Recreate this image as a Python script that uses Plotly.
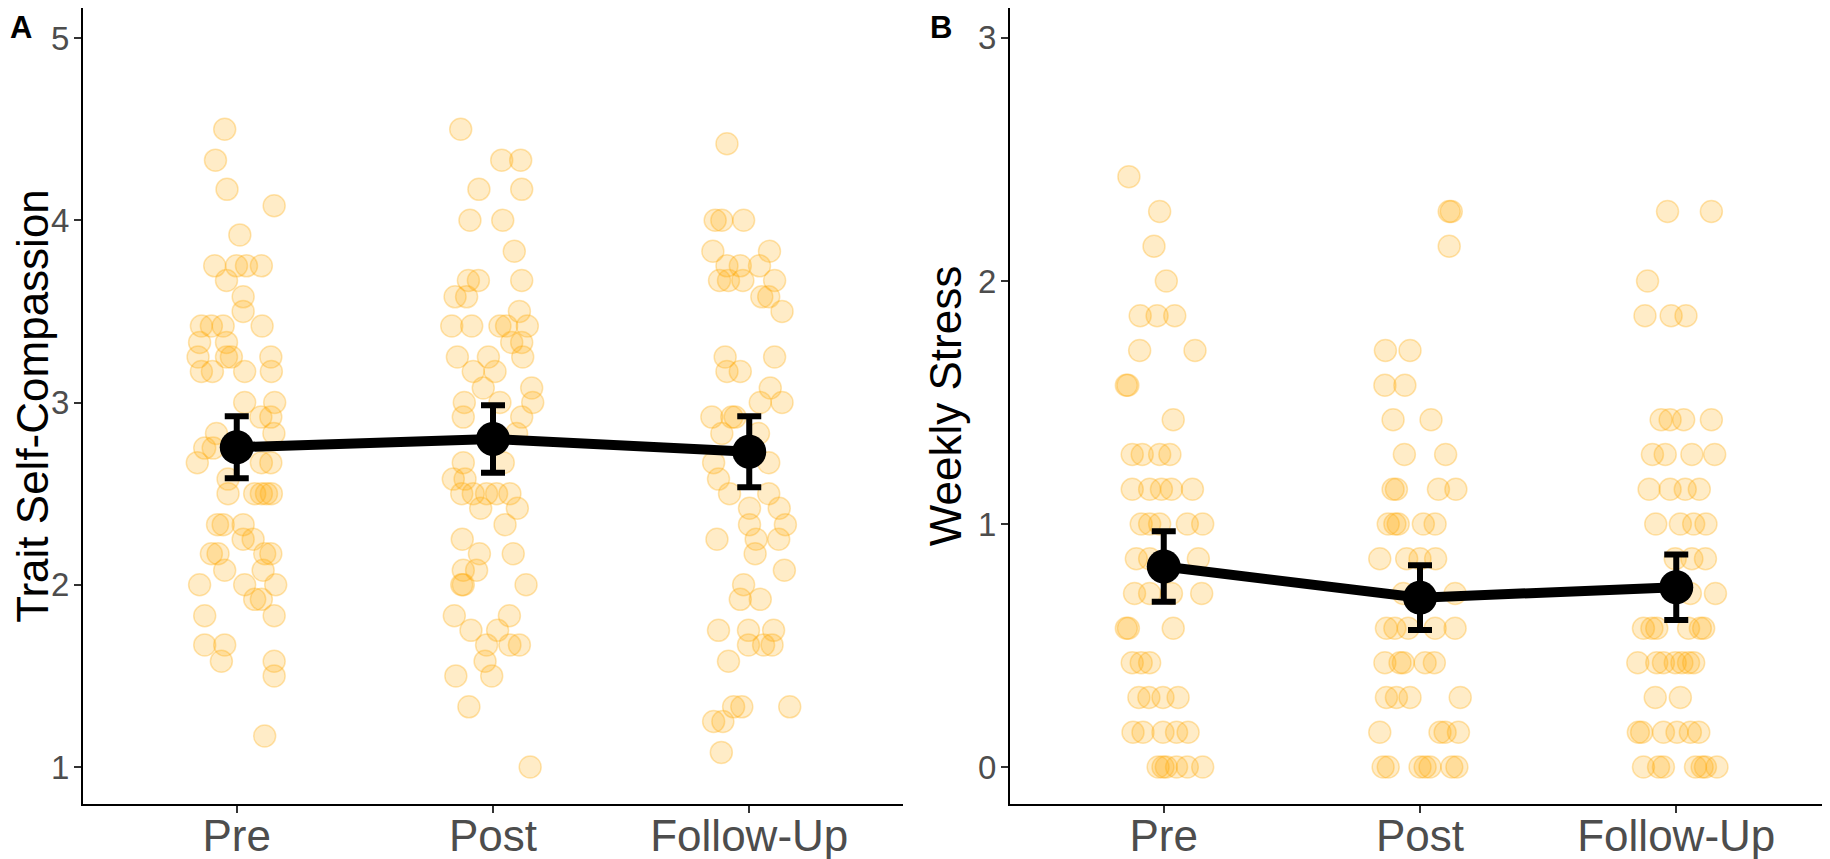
import plotly.graph_objects as go
from plotly.subplots import make_subplots

# time points
waves = ["Pre", "Post", "Follow-Up"]

# panel A: trait self-compassion, one value per participant + horizontal jitter
sc_pre = [4.5, 4.33, 4.17, 4.08, 3.92, 3.75, 3.75, 3.75, 3.75, 3.67, 3.58, 3.5,
          3.42, 3.42, 3.42, 3.42, 3.33, 3.33, 3.25, 3.25, 3.25, 3.25,
          3.17, 3.17, 3.17, 3.17, 3.0, 3.0, 2.92, 2.92, 2.83, 2.83, 2.75, 2.75,
          2.67, 2.67, 2.67, 2.58, 2.5, 2.5, 2.5, 2.5, 2.5, 2.33, 2.33, 2.33,
          2.25, 2.25, 2.17, 2.17, 2.17, 2.17, 2.08, 2.08, 2.0, 2.0, 2.0,
          1.92, 1.92, 1.83, 1.83, 1.67, 1.67, 1.58, 1.58, 1.5, 1.17]
sc_pre_jit = [-0.047, -0.083, -0.038, 0.146, 0.012, -0.086, -0.001, 0.038, 0.096, -0.04, 0.025, 0.025,
              -0.138, -0.099, -0.053, 0.099, -0.145, -0.04, -0.151, -0.04, -0.021, 0.133,
              -0.138, -0.095, 0.031, 0.135, 0.031, 0.148, 0.094, 0.133, -0.079, 0.145, -0.125, -0.092,
              -0.154, 0.096, 0.133, -0.034, 0.07, 0.096, 0.116, 0.135, -0.034, -0.075, -0.053, 0.025,
              0.064, 0.025, -0.099, -0.073, 0.133, 0.109, -0.047, 0.103, -0.145, 0.031, 0.152,
              0.096, 0.07, -0.125, 0.146, -0.125, -0.047, -0.06, 0.146, 0.146, 0.109]

sc_post = [4.5, 4.33, 4.33, 4.17, 4.17, 4.0, 4.0, 3.83, 3.67, 3.67, 3.67, 3.58, 3.58, 3.5,
           3.42, 3.42, 3.42, 3.42, 3.42, 3.33, 3.33, 3.25, 3.25, 3.25, 3.17, 3.17,
           3.08, 3.08, 3.0, 3.0, 3.0, 2.92, 2.92, 2.83, 2.67, 2.67, 2.58, 2.58,
           2.5, 2.5, 2.5, 2.5, 2.5, 2.42, 2.42, 2.33, 2.25, 2.17, 2.17, 2.08, 2.08,
           2.0, 2.0, 2.0, 1.83, 1.83, 1.75, 1.75, 1.67, 1.67, 1.67, 1.58, 1.5, 1.5, 1.33, 1.0]
sc_post_jit = [-0.126, 0.034, 0.108, -0.055, 0.112, -0.09, 0.038, 0.083, -0.096, -0.057, 0.112, -0.148, -0.103, 0.103,
               -0.161, -0.083, 0.027, 0.053, 0.134, 0.073, 0.112, -0.139, -0.018, 0.116, -0.077, 0.008,
               -0.038, 0.151, 0.155, -0.112, 0.027, -0.116, 0.112, 0.092, -0.116, 0.04, -0.155, -0.109,
               -0.122, -0.077, -0.025, 0.014, 0.066, -0.048, 0.095, 0.047, -0.12, -0.053, 0.079, -0.116, -0.064,
               -0.122, -0.116, 0.129, -0.151, 0.064, -0.086, 0.018, -0.025, 0.066, 0.103, -0.031, -0.145, -0.005, -0.094, 0.145]

sc_fu = [4.42, 4.0, 4.0, 4.0, 3.83, 3.83, 3.75, 3.75, 3.75, 3.67, 3.67, 3.67, 3.67,
         3.58, 3.58, 3.5, 3.25, 3.25, 3.17, 3.17, 3.08, 3.0, 3.0, 2.92, 2.92, 2.92,
         2.83, 2.83, 2.67, 2.67, 2.58, 2.5, 2.5, 2.42, 2.42, 2.33, 2.33, 2.25, 2.25, 2.25,
         2.17, 2.08, 2.0, 1.92, 1.92, 1.75, 1.75, 1.75, 1.67, 1.67, 1.67, 1.58,
         1.33, 1.33, 1.33, 1.25, 1.25, 1.08]
sc_fu_jit = [-0.087, -0.133, -0.107, -0.022, -0.142, 0.079, -0.087, -0.035, 0.04, -0.116, -0.081, -0.025, 0.099,
             0.049, 0.076, 0.128, -0.094, 0.099, -0.087, -0.035, 0.082, 0.043, 0.128, -0.146, -0.068, -0.055,
             -0.107, 0.036, -0.139, 0.076, -0.12, -0.077, 0.076, 0.001, 0.117, 0.001, 0.141, -0.126, 0.027, 0.115,
             0.023, 0.137, -0.022, -0.035, 0.043, -0.12, -0.003, 0.095, -0.003, 0.056, 0.089, -0.081,
             -0.061, -0.029, 0.158, -0.139, -0.103, -0.109]

sc_mean = [2.755, 2.80, 2.73]
sc_err = [0.17, 0.185, 0.195]

# panel B: weekly stress
st_pre = [2.429, 2.286, 2.143, 2.0, 1.857, 1.857, 1.857, 1.714, 1.714, 1.571, 1.571, 1.429,
          1.286, 1.286, 1.286, 1.286, 1.143, 1.143, 1.143, 1.143, 1.143,
          1.0, 1.0, 1.0, 1.0, 1.0, 0.857, 0.857, 0.857, 0.714, 0.714, 0.714, 0.714,
          0.571, 0.571, 0.571, 0.429, 0.429, 0.429, 0.286, 0.286, 0.286, 0.286,
          0.143, 0.143, 0.143, 0.143, 0.143, 0.0, 0.0, 0.0, 0.0, 0.0, 0.0]
st_pre_jit = [-0.136, -0.016, -0.038, 0.01, -0.092, -0.026, 0.043, -0.094, 0.122, -0.146, -0.14, 0.037,
              -0.123, -0.084, -0.016, 0.024, -0.123, -0.055, -0.009, 0.03, 0.112,
              -0.088, -0.055, -0.016, 0.092, 0.152, -0.107, -0.055, 0.135, -0.114, -0.055, 0.03, 0.148,
              -0.146, -0.138, 0.037, -0.123, -0.088, -0.055, -0.097, -0.058, -0.003, 0.056,
              -0.12, -0.081, -0.003, 0.05, 0.095, -0.022, -0.003, 0.01, 0.05, 0.092, 0.152]

st_post = [2.286, 2.286, 2.143, 1.714, 1.714, 1.571, 1.571, 1.429, 1.429, 1.286, 1.286,
           1.143, 1.143, 1.143, 1.143, 1.0, 1.0, 1.0, 1.0, 1.0, 0.857, 0.857, 0.857, 0.857,
           0.714, 0.714, 0.571, 0.571, 0.571, 0.571, 0.571, 0.429, 0.429, 0.429, 0.429, 0.429,
           0.286, 0.286, 0.286, 0.286, 0.143, 0.143, 0.143, 0.143,
           0.0, 0.0, 0.0, 0.0, 0.0, 0.0, 0.0]
st_post_jit = [0.114, 0.122, 0.114, -0.135, -0.039, -0.137, -0.059, -0.105, 0.043, -0.061, 0.1,
               -0.105, -0.092, 0.072, 0.14, -0.124, -0.098, -0.085, 0.013, 0.059, -0.157, -0.052, 0.0, 0.061,
               -0.065, 0.137, -0.131, -0.098, -0.046, 0.059, 0.137, -0.137, -0.078, -0.065, 0.02, 0.056,
               -0.131, -0.092, -0.039, 0.157, -0.157, 0.078, 0.098, 0.15,
               -0.144, -0.124, 0.0, 0.02, 0.039, 0.124, 0.144]

st_fu = [2.286, 2.286, 2.0, 1.857, 1.857, 1.857, 1.429, 1.429, 1.429, 1.429,
         1.286, 1.286, 1.286, 1.286, 1.143, 1.143, 1.143, 1.143, 1.0, 1.0, 1.0, 1.0,
         0.857, 0.857, 0.857, 0.714, 0.714, 0.571, 0.571, 0.571, 0.571, 0.571, 0.571,
         0.429, 0.429, 0.429, 0.429, 0.429, 0.429, 0.429, 0.286, 0.286,
         0.143, 0.143, 0.143, 0.143, 0.143, 0.143, 0.0, 0.0, 0.0, 0.0, 0.0, 0.0, 0.0]
st_fu_jit = [-0.034, 0.137, -0.112, -0.122, -0.02, 0.038, -0.059, -0.024, 0.029, 0.137,
             -0.093, -0.043, 0.061, 0.15, -0.106, -0.024, 0.035, 0.09, -0.08, 0.016, 0.068, 0.116,
             -0.004, 0.061, 0.114, 0.055, 0.153, -0.128, -0.095, -0.076, 0.048, 0.094, 0.107,
             -0.15, -0.076, -0.05, -0.004, 0.022, 0.048, 0.068, -0.082, 0.016,
             -0.148, -0.135, -0.05, 0.003, 0.055, 0.088, -0.128, -0.069, -0.05, 0.075, 0.101, 0.114, 0.159]

st_mean = [0.825, 0.697, 0.74]
st_err = [0.145, 0.133, 0.135]

FONT = "Liberation Sans, Arial, sans-serif"
# page body keeps an 8px margin, so the figure is a bit smaller than the window
W, H = 1822, 851

fig = make_subplots(rows=1, cols=2)


def add_panel(fig, col, groups, means, errs):
    for i, (vals, jit) in enumerate(groups):
        fig.add_trace(go.Scatter(
            x=[i + j for j in jit], y=vals, mode="markers",
            marker=dict(size=22, color="rgba(255,168,0,0.22)",
                        line=dict(color="rgba(255,168,0,0.30)", width=1.5)),
            showlegend=False, hoverinfo="y"), row=1, col=col)
    fig.add_trace(go.Scatter(
        x=list(range(len(waves))), y=means, mode="lines+markers",
        line=dict(color="black", width=10),
        marker=dict(size=34, color="black"),
        error_y=dict(type="data", array=errs, color="black", thickness=6, width=12),
        showlegend=False), row=1, col=col)


add_panel(fig, 1, [(sc_pre, sc_pre_jit), (sc_post, sc_post_jit), (sc_fu, sc_fu_jit)], sc_mean, sc_err)
add_panel(fig, 2, [(st_pre, st_pre_jit), (st_post, st_post_jit), (st_fu, st_fu_jit)], st_mean, st_err)

xstyle = dict(range=[-0.6, 2.6], tickvals=[0, 1, 2], ticktext=waves,
              showline=True, linecolor="black", linewidth=2,
              ticks="outside", ticklen=7, tickwidth=2, tickcolor="#333333",
              tickfont=dict(family=FONT, size=44, color="#4D4D4D"),
              ticklabelstandoff=-15, automargin=False,
              showgrid=False, zeroline=False)
ystyle = dict(showline=True, linecolor="black", linewidth=2,
              ticks="outside", ticklen=7, tickwidth=2, tickcolor="#333333",
              tickfont=dict(family=FONT, size=33, color="#4D4D4D"),
              ticklabelstandoff=-2, automargin=False,
              title_font=dict(family=FONT, size=44, color="black"),
              showgrid=False, zeroline=False)

fig.update_xaxes(**xstyle)
fig.update_yaxes(**ystyle)
fig.update_layout(
    xaxis=dict(domain=[75 / W, 895 / W]),
    xaxis2=dict(domain=[1002 / W, 1.0]),
    yaxis=dict(range=[0.797, 5.165], tickvals=[1, 2, 3, 4, 5],
               title_text="Trait Self-Compassion", title_standoff=19),
    yaxis2=dict(range=[-0.152, 3.123], tickvals=[0, 1, 2, 3],
                title_text="Weekly Stress", title_standoff=3),
    width=W, height=H,
    margin=dict(l=0, r=0, t=0, b=55),
    plot_bgcolor="white", paper_bgcolor="white",
    font=dict(family=FONT),
)

# panel letters
fig.add_annotation(text="<b>A</b>", x=0, y=1.0, xanchor="left", yanchor="top",
                   xref="paper", yref="paper", showarrow=False,
                   font=dict(family=FONT, size=31, color="black"))
fig.add_annotation(text="<b>B</b>", x=920 / W, y=1.0, xanchor="left", yanchor="top",
                   xref="paper", yref="paper", showarrow=False,
                   font=dict(family=FONT, size=31, color="black"))

fig.write_html("out.html")
